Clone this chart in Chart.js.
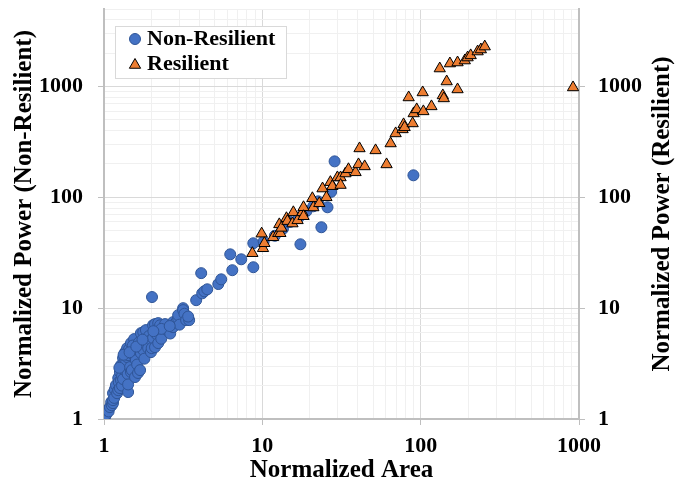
<!DOCTYPE html>
<html>
<head>
<meta charset="utf-8">
<script src="https://cdn.jsdelivr.net/npm/chart.js@4"></script>
<style>
  body { margin: 0; background: #fff; }
  #wrap { width: 675px; height: 482px; position: relative; }
</style>
</head>
<body>
<div id="wrap"><canvas id="myChart"></canvas></div>
<script>
// Datos (area normalizada vs potencia normalizada)
const nonResArea = [1.0, 1.02, 1.03, 1.05, 1.07, 1.09, 1.11, 1.12, 1.14, 1.14, 1.14, 1.16, 1.17, 1.19, 1.21, 1.23, 1.23, 1.24, 1.26, 1.26,
  1.28, 1.28, 1.3, 1.3, 1.32, 1.32, 1.34, 1.35, 1.36, 1.38, 1.4, 1.4, 1.41, 1.42, 1.42, 1.42, 1.44, 1.46, 1.48, 1.48,
  1.5, 1.5, 1.55, 1.52, 1.57, 1.59, 1.62, 1.64, 1.66, 1.69, 1.71, 1.71, 1.77, 1.77, 1.8, 1.84, 1.9, 1.92, 1.98, 1.98,
  2.0, 2.01, 2.04, 2.04, 2.1, 2.1, 2.15, 2.2, 2.2, 2.26, 2.36, 2.3, 2.43, 2.5, 2.58, 2.62, 2.73, 2.73, 2.86, 2.94,
  2.94, 3.0, 3.16, 3.16, 3.22, 3.3, 3.45, 3.4, 3.82, 4.11, 4.17, 4.3, 4.49, 5.27, 5.5, 6.27, 6.46, 7.36, 8.77, 8.77,
  10.2, 12, 13.5, 15, 17, 19, 21, 22.5, 17.4, 23.6, 25.8, 27.2, 28.6, 90,
  1.25, 1.33, 1.45, 1.6, 1.75, 2.3, 2.6, 2.05];
const nonResPower = [1.02, 1.06, 1.1, 1.2, 1.17, 1.28, 1.42, 1.33, 1.39, 1.48, 1.71, 1.55, 1.85, 2.02, 1.71, 2.34, 1.82, 2.15, 2.65, 1.9,
  3.06, 2.24, 2.45, 2.0, 3.55, 2.29, 2.8, 3.3, 4.01, 3.26, 4.36, 3.62, 2.55, 1.75, 2.05, 3.77, 4.27, 2.94, 4.84, 2.65,
  2.76, 3.9, 5.26, 4.6, 2.39, 3.4, 3.1, 2.6, 4.9, 2.76, 5.95, 3.93, 4.19, 6.08, 3.5, 6.34, 4.36, 5.6, 5.15, 4.01,
  4.36, 12.6, 7.03, 5.37, 7.18, 4.45, 5.8, 7.33, 4.84, 7.0, 5.95, 5.3, 7.18, 6.34, 6.6, 5.9, 6.74, 7.48, 7.48, 8.1,
  8.65, 7.1, 10, 9.6, 8.9, 7.8, 7.8, 8.4, 11.8, 20.7, 13.6, 14.2, 14.8, 16.5, 18.2, 30.6, 22, 27.6, 23.4, 38.5,
  40, 45, 52, 60, 66, 75, 83, 92, 37.7, 53.7, 81.3, 112, 211, 158,
  2.9, 3.8, 4.0, 4.5, 5.2, 6.5, 6.9, 6.2];

const resArea = [8.65, 9.9, 10.1, 10.3, 11.7, 12.6, 12.8, 13, 13.2, 14.2, 14.4, 15.5, 15.7, 16.7, 17.9, 18.2, 18.2, 20.7, 21, 22.9,
  24, 25.4, 26.9, 27.7, 29.8, 31.2, 31.2, 33.5, 35, 38.8, 40.5, 44.3, 41.1, 51.9, 60.9, 64.6, 69.5, 76.9, 78, 79.2,
  89, 84, 90.3, 94.4, 104, 117, 103, 138, 140, 146, 171, 132, 153, 171, 190, 198, 207, 229, 240, 254, 917];
const resPower = [31.3, 47, 34.7, 38.5, 43.6, 47.4, 57, 47.4, 53, 64.7, 61, 58, 73.2, 62, 73.2, 81.3, 67.5, 98, 81, 88.3,
  120, 100, 137, 126, 151, 151, 129, 164, 179, 168, 198, 190, 276, 265, 198, 306, 377, 410, 455, 428,
  464, 796, 571, 621, 596, 661, 883, 830, 780, 1109, 940, 1452, 1611, 1645, 1714, 1824, 1907, 2066, 2155, 2291, 980];

const majorTicks = [1, 10, 100, 1000];
const xGrid = [1, 2, 3, 4, 5, 6, 7, 8, 9, 10, 20, 30, 40, 50, 60, 70, 80, 90, 100, 200, 300, 400, 500, 600, 700, 800, 900, 1000];
const yGrid = [1, 2, 3, 4, 5, 6, 7, 8, 9, 10, 20, 30, 40, 50, 60, 70, 80, 90, 100, 200, 300, 400, 500, 600, 700, 800, 900, 1000, 2000, 3000, 4000, 5000];

const serif = 'Liberation Serif';
const tickFont = { family: serif, size: 22, weight: 'bold' };
const titleFont = { family: serif, size: 25, weight: 'bold' };
const rightTitle = 'Normalized Power (Resilient)';

const toPoints = (xs, ys) => xs.map((x, i) => ({ x: x, y: ys[i] }));
const isMajor = (v) => majorTicks.includes(v);
const gridColor = (ctx) => (ctx.tick && isMajor(ctx.tick.value)) ? '#d9d9d9' : '#f0f0f0';
const tickColor = (ctx) => (ctx.tick && isMajor(ctx.tick.value)) ? '#bfbfbf' : 'rgba(0,0,0,0)';
const labelOnlyMajor = (value) => isMajor(value) ? String(value) : '';

// Leyenda dentro del area del grafico y titulo del eje derecho (leido de abajo hacia arriba)
const extras = {
  id: 'extras',
  afterDraw(chart) {
    const ctx = chart.ctx;
    const area = chart.chartArea;
    const left = area.left + 11;
    const top = area.top + 17;
    ctx.save();
    ctx.fillStyle = '#ffffff';
    ctx.strokeStyle = '#d9d9d9';
    ctx.lineWidth = 1;
    ctx.fillRect(left, top, 171, 52);
    ctx.strokeRect(left + 0.5, top + 0.5, 171, 52);

    // circulo
    ctx.beginPath();
    ctx.arc(left + 20, top + 13, 5.5, 0, Math.PI * 2);
    ctx.fillStyle = '#4472C4';
    ctx.fill();
    ctx.strokeStyle = '#2F5597';
    ctx.stroke();

    // triangulo
    const tx = left + 20, ty = top + 39, r = 6.5;
    ctx.beginPath();
    ctx.moveTo(tx, ty - r);
    ctx.lineTo(tx + r * 0.866, ty + r * 0.5);
    ctx.lineTo(tx - r * 0.866, ty + r * 0.5);
    ctx.closePath();
    ctx.fillStyle = '#ED7D31';
    ctx.fill();
    ctx.strokeStyle = '#000000';
    ctx.stroke();

    ctx.fillStyle = '#000000';
    ctx.font = 'bold 22px "Liberation Serif"';
    ctx.textBaseline = 'middle';
    ctx.textAlign = 'left';
    ctx.fillText('Non-Resilient', left + 32, top + 13);
    ctx.fillText('Resilient', left + 32, top + 38);

    // titulo eje derecho
    ctx.translate(chart.width - 12, (area.top + area.bottom) / 2);
    ctx.rotate(-Math.PI / 2);
    ctx.font = 'bold 25px "Liberation Serif"';
    ctx.textAlign = 'center';
    ctx.fillText(rightTitle, 0, 0);
    ctx.restore();
  }
};

let myChart = new Chart(document.getElementById('myChart'), {
  type: 'scatter',
  data: {
    datasets: [
      {
        label: 'Non-Resilient',
        data: toPoints(nonResArea, nonResPower),
        pointStyle: 'circle',
        pointRadius: 5.5,
        pointHoverRadius: 5.5,
        backgroundColor: '#4472C4',
        borderColor: '#2F5597',
        borderWidth: 1,
        yAxisID: 'y',
        order: 2
      },
      {
        label: 'Resilient',
        data: toPoints(resArea, resPower),
        pointStyle: 'triangle',
        pointRadius: 6.5,
        pointHoverRadius: 6.5,
        backgroundColor: '#ED7D31',
        borderColor: '#000000',
        borderWidth: 1,
        yAxisID: 'y2',
        order: 1
      }
    ]
  },
  options: {
    responsive: true,
    maintainAspectRatio: false,
    animation: false,
    layout: { padding: { top: 9, left: 0, right: 0, bottom: 0 } },
    plugins: {
      legend: { display: false },
      tooltip: { enabled: false }
    },
    scales: {
      x: {
        type: 'logarithmic',
        position: 'bottom',
        min: 1,
        max: 1000,
        afterBuildTicks: (scale) => { scale.ticks = xGrid.map(v => ({ value: v })); },
        afterFit: (scale) => { scale.height = 63; scale.paddingLeft = 0; scale.paddingRight = 0; },
        ticks: { autoSkip: false, maxRotation: 0, callback: labelOnlyMajor, font: tickFont, color: '#000', padding: 8 },
        grid: { color: gridColor, tickColor: tickColor, tickLength: 6 },
        border: { color: '#bfbfbf', width: 2 },
        title: { display: true, text: 'Normalized Area', font: titleFont, color: '#000', padding: { top: 0, bottom: -4 } }
      },
      y: {
        type: 'logarithmic',
        position: 'left',
        min: 1,
        max: 5000,
        afterBuildTicks: (scale) => { scale.ticks = yGrid.map(v => ({ value: v })); },
        afterFit: (scale) => { scale.width = 104; scale.paddingTop = 0; scale.paddingBottom = 0; },
        ticks: { autoSkip: false, callback: labelOnlyMajor, font: tickFont, color: '#000', padding: 15 },
        grid: { color: gridColor, tickColor: tickColor, tickLength: 6 },
        border: { color: '#bfbfbf', width: 2 },
        title: { display: true, text: 'Normalized Power (Non-Resilient)', font: titleFont, color: '#000', padding: { top: 10, bottom: 0 } }
      },
      y2: {
        type: 'logarithmic',
        position: 'right',
        min: 1,
        max: 5000,
        afterBuildTicks: (scale) => { scale.ticks = yGrid.map(v => ({ value: v })); },
        afterFit: (scale) => { scale.width = 96; scale.paddingTop = 0; scale.paddingBottom = 0; },
        ticks: { autoSkip: false, callback: labelOnlyMajor, font: tickFont, color: '#000', padding: 13 },
        grid: { drawOnChartArea: false, tickColor: tickColor, tickLength: 6 },
        border: { color: '#bfbfbf', width: 2 },
        title: { display: false }
      }
    }
  },
  plugins: [extras]
});
</script>
</body>
</html>
